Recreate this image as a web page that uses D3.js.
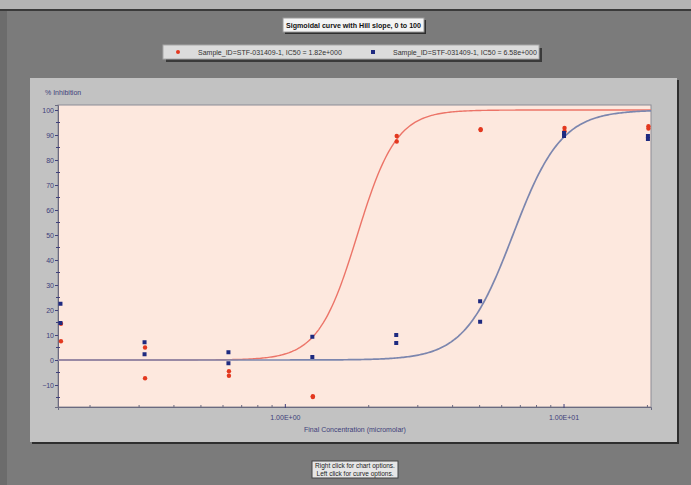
<!DOCTYPE html>
<html>
<head>
<meta charset="utf-8">
<script src="https://cdn.jsdelivr.net/npm/d3@7"></script>
<style>
  html, body { margin: 0; padding: 0; background: #7b7b7b; }
  svg { display: block; font-family: "Liberation Sans", Arial, sans-serif; }
</style>
</head>
<body>
<svg id="chart" width="691" height="485"></svg>
<script>
// Dose-response data: two-fold dilution series, two replicates per sample
const concentrations = [0.156, 0.3125, 0.625, 1.25, 2.5, 5, 10, 20];
const redRep1 = [14.5, 5.0, -4.5, -14.5, 89.6, 92.3, 92.8, 93.5];
const redRep2 = [7.5, -7.3, -6.3, -14.8, 87.4, 92.0, 91.5, 92.6];
const blueRep1 = [22.5, 7.1, 3.1, 9.3, 10.0, 23.5, 90.8, 89.6];
const blueRep2 = [14.8, 2.3, -1.3, 1.2, 6.8, 15.3, 89.6, 88.4];

// Fitted Hill parameters
const seriesNames = ["Sample_ID=STF-031409-1,  IC50 = 1.82e+000", "Sample_ID=STF-031409-1,  IC50 = 6.58e+000"];
const ic50s = [1.82, 6.58];
const hillSlopes = [6.2, 5.0];

const xTickLabels = ["1.00E+00", "1.00E+01"];
const xMajorTicks = [1, 10];
const yTicks = [-10, 0, 10, 20, 30, 40, 50, 60, 70, 80, 90, 100];
const titleText = "Sigmoidal curve with Hill slope, 0 to 100";
const yTitle = "% Inhibition";
const xTitle = "Final Concentration (micromolar)";
const footerLines = ["Right click for chart options.", "Left click for curve options."];

const svg = d3.select("#chart");
const W = 691, H = 485;
const axisColor = "#40407a";
const redColor = "#e3381f", blueColor = "#1e2a80";
const redCurve = "#ec7468", blueCurve = "#7c86ae";

// Window backdrop
svg.append("rect").attr("width", W).attr("height", H).attr("fill", "#7b7b7b");
svg.append("rect").attr("width", W).attr("height", 9).attr("fill", "#b4b4b4");
svg.append("rect").attr("y", 9).attr("width", W).attr("height", 2).attr("fill", "#3a3a3a");
svg.append("rect").attr("y", 11).attr("width", 7).attr("height", H - 11).attr("fill", "#6c6c6c");

// Title box
const tb = { x: 283, y: 18, w: 141, h: 14 };
svg.append("rect").attr("x", tb.x + 2).attr("y", tb.y + 2).attr("width", tb.w).attr("height", tb.h).attr("fill", "#2e2e2e");
svg.append("rect").attr("x", tb.x).attr("y", tb.y).attr("width", tb.w).attr("height", tb.h).attr("fill", "#f4f4f4").attr("stroke", "#9a9a9a");
svg.append("text").attr("x", tb.x + 3).attr("y", tb.y + 10)
  .attr("textLength", tb.w - 6).attr("lengthAdjust", "spacingAndGlyphs")
  .attr("font-size", 7).attr("font-weight", "bold").attr("fill", "#111").text(titleText);

// Legend box
const lb = { x: 163, y: 45, w: 376, h: 14 };
svg.append("rect").attr("x", lb.x + 3).attr("y", lb.y + 3).attr("width", lb.w).attr("height", lb.h).attr("fill", "#3a3a3a");
svg.append("rect").attr("x", lb.x).attr("y", lb.y).attr("width", lb.w).attr("height", lb.h).attr("fill", "#dcdcdc").attr("stroke", "#a8a8a8");
svg.append("circle").attr("cx", 178).attr("cy", 52).attr("r", 2).attr("fill", redColor);
svg.append("text").attr("x", 198).attr("y", 55).attr("font-size", 7).attr("fill", "#333").text(seriesNames[0]);
svg.append("rect").attr("x", 371).attr("y", 50).attr("width", 4).attr("height", 4).attr("fill", blueColor);
svg.append("text").attr("x", 393).attr("y", 55).attr("font-size", 7).attr("fill", "#333").text(seriesNames[1]);

// Chart panel
const panel = { x: 30, y: 78, w: 647, h: 364 };
svg.append("rect").attr("x", panel.x + 2).attr("y", panel.y + 2).attr("width", panel.w).attr("height", panel.h).attr("fill", "#2e2e2e");
svg.append("rect").attr("x", panel.x).attr("y", panel.y).attr("width", panel.w).attr("height", panel.h).attr("fill", "#c2c2c2");

// Plot area
const plot = { left: 58, right: 651, top: 105, bottom: 407 };
const x = d3.scaleLog().domain([0.1535, 20.6]).range([plot.left, plot.right]);
const y = d3.scaleLinear().domain([-18.8, 102]).range([plot.bottom, plot.top]);

svg.append("rect").attr("x", plot.left).attr("y", plot.top)
  .attr("width", plot.right - plot.left).attr("height", plot.bottom - plot.top)
  .attr("fill", "#fde8de").attr("stroke", "#8c8c96").attr("stroke-width", 1);

svg.append("defs").append("clipPath").attr("id", "plotClip")
  .append("rect").attr("x", plot.left).attr("y", plot.top)
  .attr("width", plot.right - plot.left).attr("height", plot.bottom - plot.top);

// Y axis
const yAxis = d3.axisLeft(y).tickValues(yTicks).tickSize(3).tickPadding(1).tickFormat(d3.format("d"));
const gy = svg.append("g").attr("transform", `translate(${plot.left},0)`).call(yAxis);
gy.select(".domain").attr("stroke", "#6a6a80");
gy.selectAll(".tick line").attr("stroke", axisColor);
gy.selectAll(".tick text").attr("fill", axisColor).attr("font-size", 7);
const yMinor = d3.range(-15, 101, 10);
svg.append("g").selectAll("line").data(yMinor).join("line")
  .attr("x1", plot.left - 2).attr("x2", plot.left + 2)
  .attr("y1", d => y(d)).attr("y2", d => y(d)).attr("stroke", axisColor);

svg.append("text").attr("x", 45).attr("y", 95).attr("font-size", 7).attr("fill", axisColor).text(yTitle);

// X axis
const xMinor = [0.2, 0.3, 0.4, 0.5, 0.6, 0.7, 0.8, 0.9, 2, 3, 4, 5, 6, 7, 8, 9, 20];
svg.append("g").selectAll("line").data(xMinor).join("line")
  .attr("x1", d => x(d)).attr("x2", d => x(d))
  .attr("y1", plot.bottom - 2).attr("y2", plot.bottom + 1).attr("stroke", "#6a6a80");
const xAxis = d3.axisBottom(x).tickValues(xMajorTicks).tickSize(3).tickPadding(5)
  .tickFormat((d, i) => xTickLabels[i]);
const gx = svg.append("g").attr("transform", `translate(0,${plot.bottom})`).call(xAxis);
gx.select(".domain").attr("stroke", "#6a6a80");
gx.selectAll(".tick line").attr("stroke", axisColor).attr("y1", -3).attr("y2", 1);
gx.selectAll(".tick text").attr("fill", axisColor).attr("font-size", 7);

svg.append("text").attr("x", 355).attr("y", 432).attr("text-anchor", "middle")
  .attr("font-size", 7).attr("fill", axisColor).text(xTitle);

// Fitted Hill curves
const hill = (c, ic50, h) => 100 / (1 + Math.pow(ic50 / c, h));
const [d0, d1] = x.domain();
const grid = d3.range(0, 401).map(i => Math.exp(Math.log(d0) + (Math.log(d1) - Math.log(d0)) * i / 400));
const line = d3.line().x(d => x(d[0])).y(d => y(d[1]));
const curves = svg.append("g").attr("clip-path", "url(#plotClip)");
curves.append("path").datum(grid.map(c => [c, hill(c, ic50s[0], hillSlopes[0])]))
  .attr("d", line).attr("fill", "none").attr("stroke", redCurve).attr("stroke-width", 1.4);
curves.append("path").datum(grid.map(c => [c, hill(c, ic50s[1], hillSlopes[1])]))
  .attr("d", line).attr("fill", "none").attr("stroke", blueCurve).attr("stroke-width", 1.7);

// Data points
const pts = svg.append("g");
const redPts = concentrations.flatMap((c, i) => [[c, redRep1[i]], [c, redRep2[i]]]);
const bluePts = concentrations.flatMap((c, i) => [[c, blueRep1[i]], [c, blueRep2[i]]]);
pts.selectAll("circle.red").data(redPts).join("circle").attr("class", "red")
  .attr("cx", d => x(d[0]) + 1).attr("cy", d => y(d[1])).attr("r", 2.2).attr("fill", redColor);
pts.selectAll("rect.blue").data(bluePts).join("rect").attr("class", "blue")
  .attr("x", d => x(d[0]) - 1.5).attr("y", d => y(d[1]) - 2).attr("width", 4).attr("height", 4).attr("fill", blueColor);

// Footer hint box
const fb = { x: 312, y: 461, w: 86, h: 17 };
svg.append("rect").attr("x", fb.x).attr("y", fb.y).attr("width", fb.w).attr("height", fb.h)
  .attr("fill", "#e6e6e6").attr("stroke", "#444");
footerLines.forEach((t, i) => {
  svg.append("text").attr("x", fb.x + fb.w / 2).attr("y", fb.y + 7 + i * 8).attr("text-anchor", "middle")
    .attr("font-size", 6.5).attr("fill", "#222").text(t);
});
</script>
</body>
</html>
